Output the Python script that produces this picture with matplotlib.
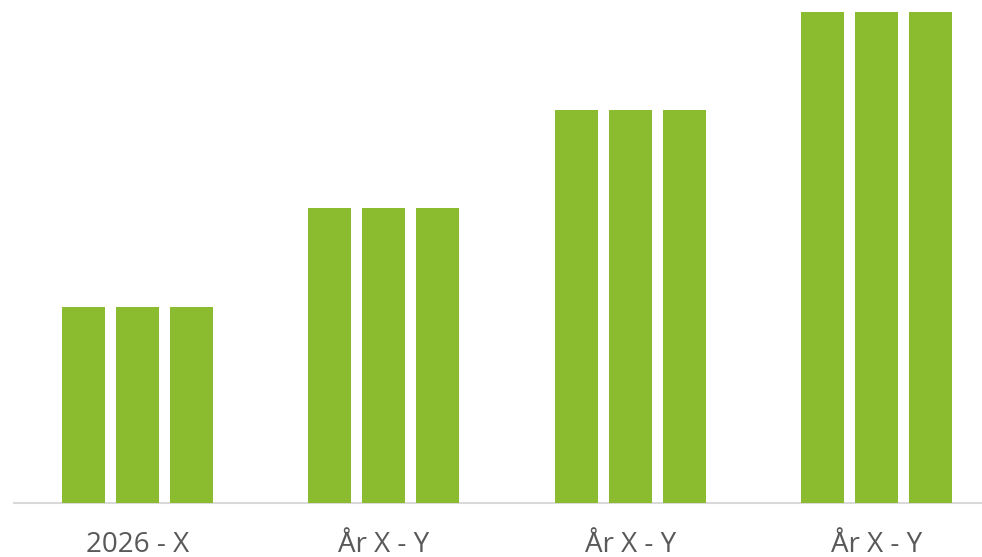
import matplotlib
matplotlib.use("Agg")
import matplotlib.pyplot as plt
import numpy as np

categories = ["2026 - X", "År X - Y", "År X - Y", "År X - Y"]
series_a = [2, 3, 4, 5]
series_b = [2, 3, 4, 5]
series_c = [2, 3, 4, 5]

W, H = 982, 557
fig = plt.figure(figsize=(W / 100, H / 100), dpi=100)
# axes region in pixels: x from 14 to 1000 (runs past the right edge), y from 12 to 503
left, right, top, bottom = 14, 1000, 12, 503
ax = fig.add_axes([left / W, 1 - bottom / H, (right - left) / W, (bottom - top) / H])

green = "#8BBC2F"
x = np.arange(len(categories))
width = 0.1745
step = 0.219
for off, vals in zip((-step, 0, step), (series_a, series_b, series_c)):
    ax.bar(x + off, vals, width=width, color=green, linewidth=0, zorder=2)

ax.set_xlim(-0.5, len(categories) - 0.5)
ax.set_ylim(0, 5)
ax.set_yticks([])
ax.set_xticks(x)
ax.set_xticklabels(categories, fontsize=20, color="#595959", family=["Open Sans", "DejaVu Sans"])
ax.tick_params(axis="x", length=0, pad=20)

for s in ("top", "right", "left"):
    ax.spines[s].set_visible(False)
ax.spines["bottom"].set_color("#D9D9D9")
ax.spines["bottom"].set_linewidth(1.5)
ax.spines["bottom"].set_zorder(1)

fig.savefig("out.png", dpi=100)
